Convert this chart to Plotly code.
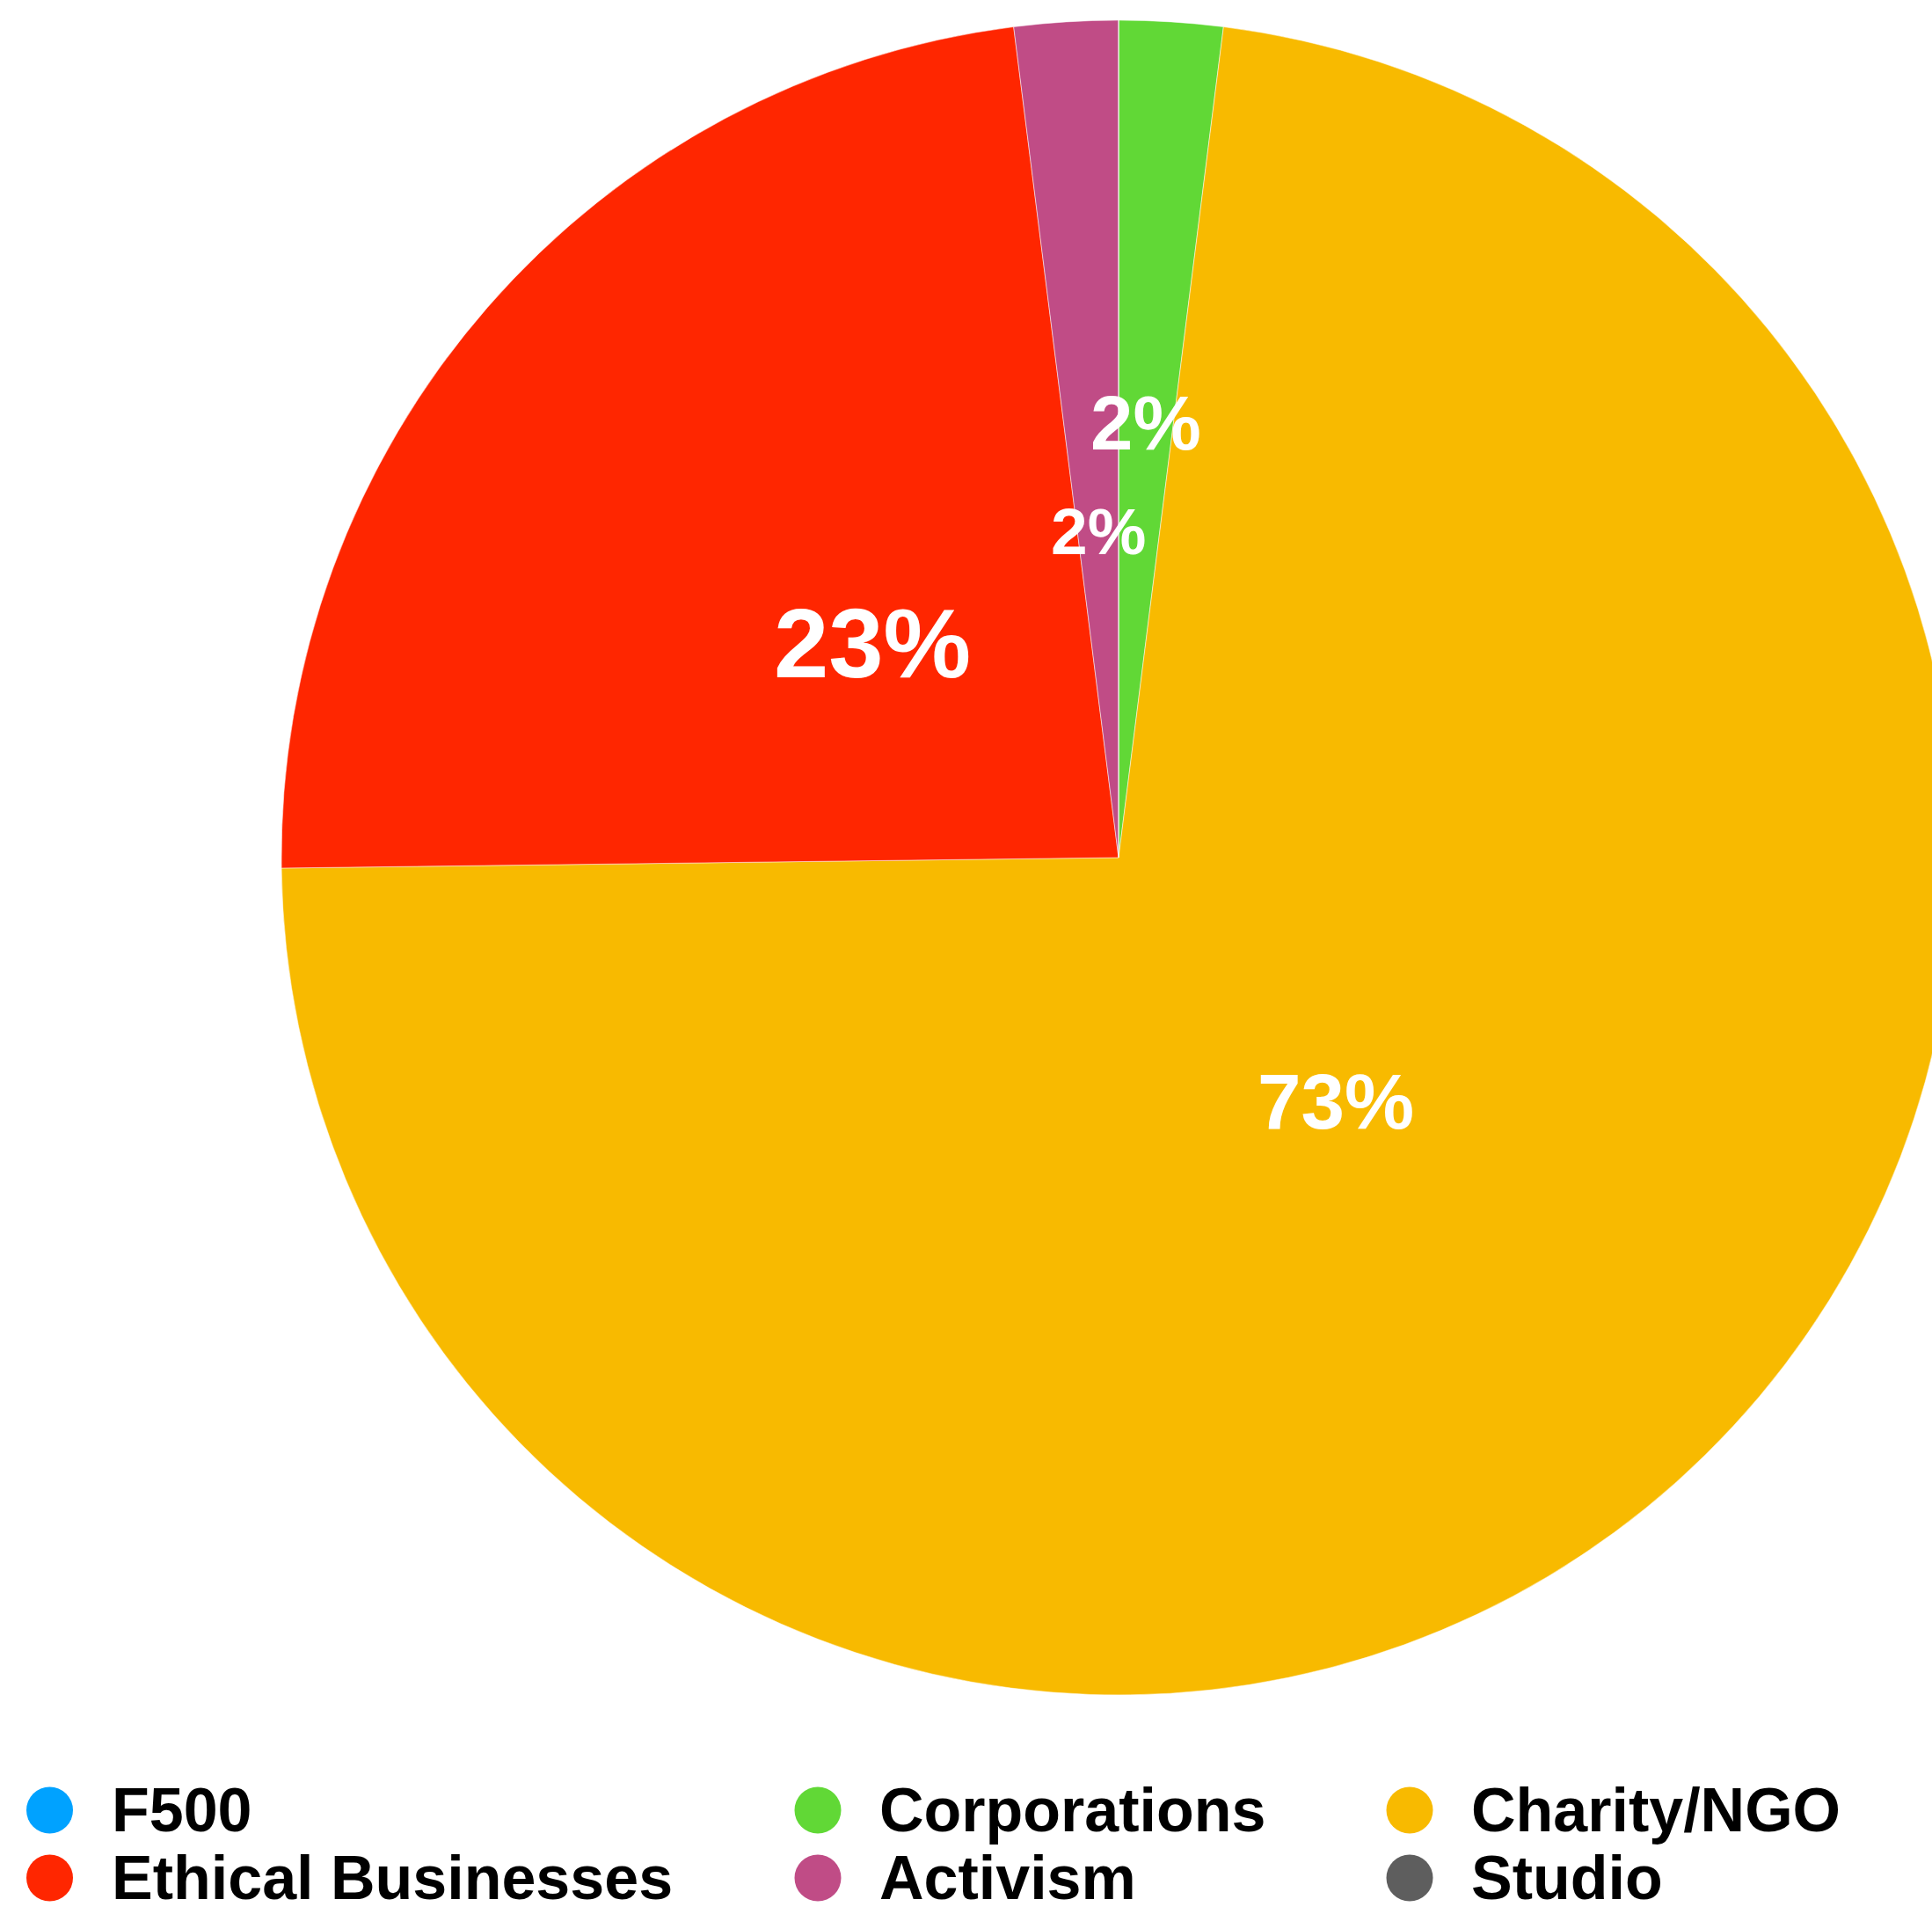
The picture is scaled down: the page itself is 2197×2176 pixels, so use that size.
import math
import plotly.graph_objects as go

# ---- data ----
categories = ["F500", "Corporations", "Charity/NGO", "Ethical Businesses", "Activism", "Studio"]
shares = [0.0, 2.0, 72.8, 23.2, 2.0, 0.0]

# ---- styles ----
slice_colors = ["#00A2FF", "#61D836", "#F8BA00", "#FF2600", "#C04C86", "#5E5E5E"]
FONT = "Liberation Sans, Arial, Helvetica, sans-serif"

# ---- layout constants (pixels) ----
W, H = 2224, 2176
PIE_LEFT, PIE_TOP, PIE_SIZE = 320, 23, 1904
label_radius = [0.39, 0.52, 0.39, 0.39, 0.39, 0.39]   # label distance as a fraction of the radius
label_size = [80, 87, 89, 112, 75, 80]
legend_cols = [56.5, 930, 1603]
legend_rows = [2058, 2135]
LEG_DOT = 53
LEG_TEXT_GAP = 68
LEG_FONT = 70


def px(x):
    return x / W


def py(y):
    return 1 - y / H


fig = go.Figure()
fig.add_trace(go.Pie(
    labels=categories,
    values=shares,
    sort=False,
    direction="clockwise",
    rotation=0,
    textinfo="none",
    showlegend=False,
    hoverinfo="label+percent",
    marker=dict(colors=slice_colors, line=dict(color="rgba(255,255,255,0.5)", width=1)),
    domain=dict(x=[px(PIE_LEFT), px(PIE_LEFT + PIE_SIZE)],
                y=[py(PIE_TOP + PIE_SIZE), py(PIE_TOP)]),
))

# percentage labels placed at each slice's middle angle
cx = PIE_LEFT + PIE_SIZE / 2
cy = PIE_TOP + PIE_SIZE / 2
R = PIE_SIZE / 2
total = sum(shares)
start = 0.0
annotations = []
for i, v in enumerate(shares):
    span = 360.0 * v / total
    if v > 0:
        mid = math.radians(start + span / 2)
        r = label_radius[i] * R
        x = cx + r * math.sin(mid)
        y = cy - r * math.cos(mid)
        annotations.append(dict(
            x=px(x), y=py(y), xref="paper", yref="paper",
            text=f"{round(100 * v / total)}%",
            showarrow=False, xanchor="center", yanchor="middle",
            font=dict(family=FONT, size=label_size[i], color="white", weight="bold"),
        ))
    start += span

# legend: three columns, two rows
shapes = []
for i, name in enumerate(categories):
    col, row = i % 3, i // 3
    mx, my = legend_cols[col], legend_rows[row]
    shapes.append(dict(
        type="circle", xref="paper", yref="paper",
        x0=px(mx - LEG_DOT / 2), x1=px(mx + LEG_DOT / 2),
        y0=py(my + LEG_DOT / 2), y1=py(my - LEG_DOT / 2),
        fillcolor=slice_colors[i], line=dict(width=0),
    ))
    annotations.append(dict(
        x=px(mx + LEG_TEXT_GAP), y=py(my), xref="paper", yref="paper",
        text=name, showarrow=False, xanchor="left", yanchor="middle",
        font=dict(family=FONT, size=LEG_FONT, color="black", weight="bold"),
    ))

fig.update_layout(
    width=W, height=H,
    margin=dict(l=0, r=0, t=0, b=0, pad=0, autoexpand=False),
    paper_bgcolor="white", plot_bgcolor="white",
    showlegend=False,
    annotations=annotations,
    shapes=shapes,
    font=dict(family=FONT),
)

fig.write_html(
    "out.html",
    config={"displayModeBar": False},
    post_script="document.documentElement.style.overflow='hidden';"
                "document.body.style.overflow='hidden';document.body.style.margin='0';",
)
